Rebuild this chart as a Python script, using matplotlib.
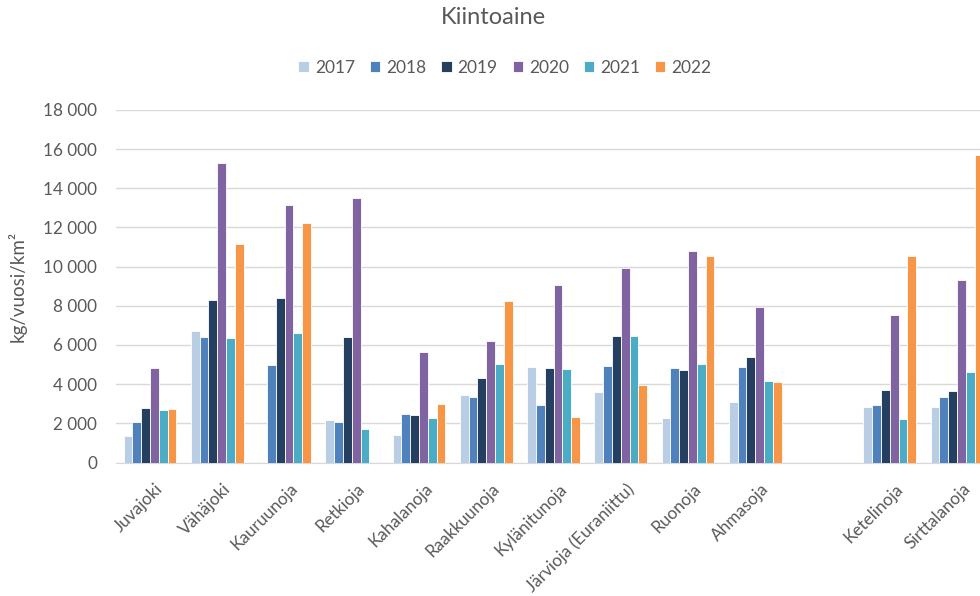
import matplotlib
matplotlib.use("Agg")
import matplotlib.pyplot as plt
import matplotlib.transforms as mtransforms
import numpy as np

plt.rcParams['font.family'] = ['Lato', 'DejaVu Sans']

categories = ["Juvajoki", "Vähäjoki", "Kauruunoja", "Retkioja", "Kahalanoja",
              "Raakkuunoja", "Kylänitunoja", "Järvioja (Euraniittu)", "Ruonoja",
              "Ahmasoja", "", "Ketelinoja", "Sirttalanoja"]
years = ["2017", "2018", "2019", "2020", "2021", "2022"]
nan = np.nan
v2017 = [1330, 6720, nan, 2180, 1380, 3470, 4880, 3620, 2260, 3100, nan, 2840, 2840]
v2018 = [2060, 6410, 4980, 2080, 2480, 3320, 2940, 4930, 4830, 4880, nan, 2940, 3320]
v2019 = [2770, 8280, 8390, 6400, 2430, 4300, 4830, 6450, 4710, 5390, nan, 3690, 3640]
v2020 = [4830, 15290, 13130, 13510, 5660, 6190, 9070, 9950, 10780, 7960, nan, 7540, 9320]
v2021 = [2690, 6360, 6600, 1700, 2260, 5040, 4780, 6450, 5040, 4150, nan, 2210, 4630]
v2022 = [2740, 11160, 12250, nan, 2990, 8270, 2310, 3950, 10530, 4100, nan, 10530, 15700]
series = [v2017, v2018, v2019, v2020, v2021, v2022]
colors = ["#B9CDE5", "#4F81BD", "#243F60", "#8064A2", "#4BACC6", "#F79646"]

fig = plt.figure(figsize=(9.8, 5.96), dpi=100)
ax = fig.add_axes([116.4/980, 1-462.5/596, (990.6-116.4)/980, (462.5-110)/596])

x = np.arange(len(categories))
w = 0.131
for i, (vals, c, y) in enumerate(zip(series, colors, years)):
    ax.bar(x + (i - 2.5) * w, vals, width=w, color=c, edgecolor='white',
           linewidth=0.6, label=y, zorder=3)

ax.set_xlim(-0.5, len(categories) - 0.5)
ax.set_ylim(0, 18000)
ax.set_yticks(np.arange(0, 18001, 2000))
ax.set_yticklabels([f"{v:,}".replace(",", " ") for v in range(0, 18001, 2000)])
ax.set_xticks(x)
ax.set_xticklabels(categories, rotation=45, ha='right', rotation_mode='anchor')
ax.tick_params(axis='both', length=0, labelsize=12.3, colors='#595959')
ax.tick_params(axis='x', pad=13)
ax.tick_params(axis='y', pad=14)
offset = mtransforms.ScaledTranslation(5/100, 0, fig.dpi_scale_trans)
for lab in ax.get_xticklabels():
    lab.set_transform(lab.get_transform() + offset)
ax.grid(axis='y', color='#D9D9D9', linewidth=1.0, zorder=0)
for s in ['top', 'right', 'left']:
    ax.spines[s].set_visible(False)
ax.spines['bottom'].set_color('#D9D9D9')
ax.set_ylabel("kg/vuosi/km²", fontsize=13.5, color='#595959', labelpad=12)

fig.text(493/980, 1-18/596, "Kiintoaine", ha='center', va='center', fontsize=17, color='#595959')
handles, labels = ax.get_legend_handles_labels()
fig.legend(handles, labels, loc='center', bbox_to_anchor=(505/980, 1-68/596), ncol=6,
           frameon=False, fontsize=12.5, handlelength=0.6, handleheight=0.6,
           handletextpad=0.35, columnspacing=0.85, labelcolor='#595959')

fig.savefig("out.png", dpi=100)
